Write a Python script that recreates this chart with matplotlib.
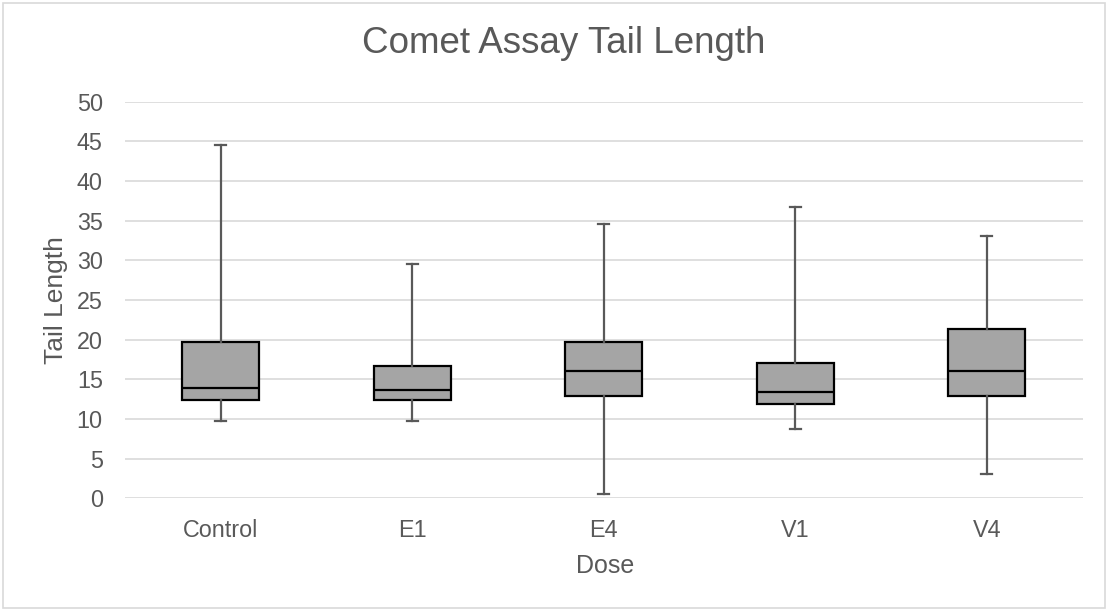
import matplotlib
matplotlib.use("Agg")
import matplotlib.pyplot as plt
from matplotlib.patches import Rectangle

categories = ["Control", "E1", "E4", "V1", "V4"]
whisker_low = [9.8, 9.8, 0.5, 8.7, 3.1]
q1 = [12.4, 12.4, 12.9, 11.9, 12.9]
medians = [13.9, 13.7, 16.0, 13.4, 16.0]
q3 = [19.7, 16.7, 19.7, 17.0, 21.3]
whisker_high = [44.5, 29.5, 34.6, 36.7, 33.1]
y_ticks = [0, 5, 10, 15, 20, 25, 30, 35, 40, 45, 50]

W, H = 1107, 610
plt.rcParams['font.family'] = ['Liberation Sans', 'DejaVu Sans']
fig = plt.figure(figsize=(W / 100, H / 100), dpi=100)
fig.patch.set_facecolor('white')

left, right, top, bottom = 125, 1082.5, 101.7, 498.3
ax = fig.add_axes([left / W, 1 - bottom / H, (right - left) / W, (bottom - top) / H])

stats = []
for i, c in enumerate(categories):
    stats.append(dict(label=c, whislo=whisker_low[i], q1=q1[i], med=medians[i],
                      q3=q3[i], whishi=whisker_high[i], fliers=[]))

ax.bxp(stats, positions=range(len(categories)), widths=0.4, showfliers=False,
       patch_artist=True, capwidths=0.056,
       boxprops=dict(facecolor='#a5a5a5', edgecolor='black', linewidth=1.6),
       medianprops=dict(color='black', linewidth=1.6),
       whiskerprops=dict(color='#595959', linewidth=1.6),
       capprops=dict(color='#595959', linewidth=1.6))

ax.set_xlim(-0.5, len(categories) - 0.5)
ax.set_ylim(0, 50)
ax.set_yticks(y_ticks)
ax.set_xticks(range(len(categories)))
ax.set_xticklabels(categories)
ax.yaxis.grid(True, color='#d9d9d9', linewidth=1.2)
ax.set_axisbelow(True)
for s in ax.spines.values():
    s.set_visible(False)
ax.tick_params(axis='both', length=0, labelcolor='#595959', labelsize=16.8)
ax.tick_params(axis='x', pad=15)
ax.tick_params(axis='y', pad=16)

fig.text(564 / W, 1 - 53 / H, "Comet Assay Tail Length", ha='center', va='baseline',
         fontsize=26.5, color='#595959')
fig.text(605 / W, 1 - 573 / H, "Dose", ha='center', va='baseline',
         fontsize=18, color='#595959')
fig.text(63 / W, 1 - 300 / H, "Tail Length", ha='center', va='baseline',
         rotation=90, rotation_mode='anchor', fontsize=19, color='#595959')

fig.add_artist(Rectangle((2.5 / W, 2.5 / H), (W - 5) / W, (H - 5) / H,
                         transform=fig.transFigure, fill=False,
                         edgecolor='#d9d9d9', linewidth=1.2))

fig.savefig("out.png", dpi=100)
